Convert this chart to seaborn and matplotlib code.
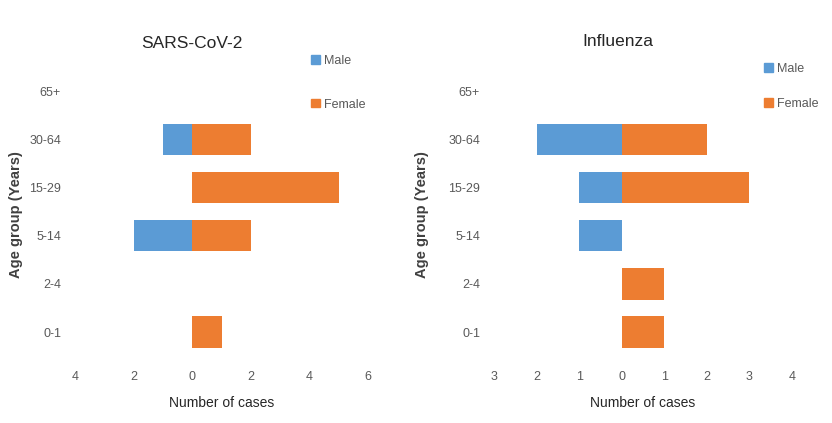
import pandas as pd
import matplotlib
matplotlib.use('Agg')
import matplotlib.pyplot as plt
import matplotlib.patches as mpatches
from matplotlib.ticker import FuncFormatter
import seaborn as sns

# Age groups, top to bottom
age_groups = ['65+', '30-64', '15-29', '5-14', '2-4', '0-1']

# SARS-CoV-2 cases
covid_male = [0, 1, 0, 2, 0, 0]
covid_female = [0, 2, 5, 2, 0, 1]

# Influenza cases
flu_male = [0, 2, 1, 1, 0, 0]
flu_female = [0, 2, 3, 0, 1, 1]

colors = {'Male': '#5B9BD5', 'Female': '#ED7D31'}
grey = '#595959'

sns.set_style('white')
plt.rcParams['font.family'] = ['Liberation Sans Narrow', 'Liberation Sans', 'DejaVu Sans']


def make_df(male, female):
    # male goes to the left of zero
    rows = []
    for g, m, f in zip(age_groups, male, female):
        rows.append({'Age': g, 'Sex': 'Male', 'Cases': -m})
        rows.append({'Age': g, 'Sex': 'Female', 'Cases': f})
    return pd.DataFrame(rows)


fig = plt.figure(figsize=(8.32, 4.23), dpi=100)
ax1 = fig.add_axes([75 / 832, 0.158, 293 / 832, 0.683])
ax2 = fig.add_axes([494 / 832, 0.158, 298 / 832, 0.683])

panels = [
    (ax1, make_df(covid_male, covid_female), (-4, 6), range(-4, 7, 2)),
    (ax2, make_df(flu_male, flu_female), (-3, 4), range(-3, 5)),
]

for ax, df, xlim, ticks in panels:
    sns.barplot(data=df, y='Age', x='Cases', hue='Sex', order=age_groups,
                hue_order=['Male', 'Female'], palette=colors, dodge=False,
                width=0.65, orient='h', legend=False, saturation=1,
                linewidth=0, ax=ax)
    ax.set_xlim(*xlim)
    ax.set_xticks(list(ticks))
    ax.xaxis.set_major_formatter(FuncFormatter(lambda v, p: f'{abs(int(round(v)))}'))
    ax.tick_params(axis='x', length=0, colors=grey, labelsize=9, pad=11)
    ax.tick_params(axis='y', length=0, colors=grey, labelsize=9, pad=10)
    for s in ax.spines.values():
        s.set_visible(False)
    ax.set_xlabel('Number of cases', fontsize=10, color='#262626', labelpad=9)
    ax.set_ylabel('')

fig.text(192 / 832, 1 - 43 / 423, 'SARS-CoV-2', fontsize=12.5, ha='center', va='center', color='#262626')
fig.text(618 / 832, 1 - 42 / 423, 'Influenza', fontsize=12.5, ha='center', va='center', color='#262626')

fig.text(16 / 832, 1 - 215 / 423, 'Age group (Years)', rotation=90, fontsize=10.5,
         fontweight='bold', ha='center', va='center', color='#404040')
fig.text(422 / 832, 1 - 215 / 423, 'Age group (Years)', rotation=90, fontsize=10.5,
         fontweight='bold', ha='center', va='center', color='#404040')

handles = [mpatches.Patch(color=colors['Male'], label='Male'),
           mpatches.Patch(color=colors['Female'], label='Female')]
fig.legend(handles=handles, loc='upper left', bbox_to_anchor=(300 / 832, 1 - 44 / 423),
           frameon=False, fontsize=9, labelspacing=2.5, handlelength=0.7,
           handleheight=0.7, handletextpad=0.3, labelcolor=grey)
fig.legend(handles=handles, loc='upper left', bbox_to_anchor=(753 / 832, 1 - 52 / 423),
           frameon=False, fontsize=9, labelspacing=1.8, handlelength=0.7,
           handleheight=0.7, handletextpad=0.3, labelcolor=grey)

fig.savefig('out.png', dpi=100)
